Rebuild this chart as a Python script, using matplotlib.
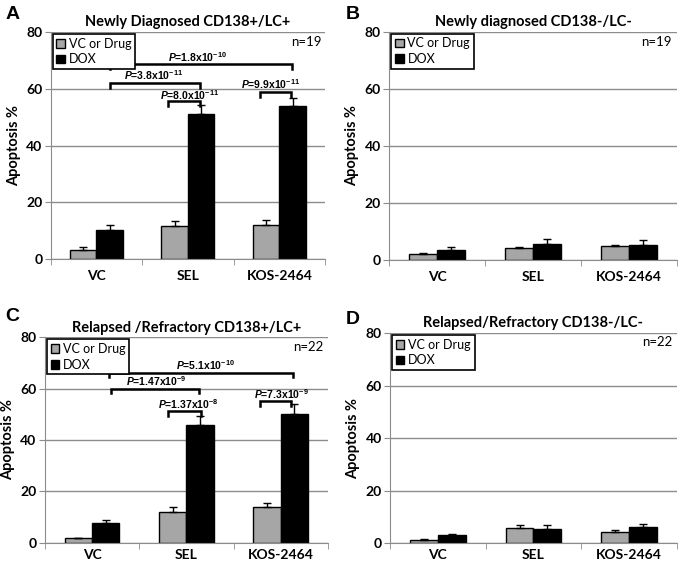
import matplotlib
matplotlib.use("Agg")
import matplotlib.pyplot as plt
import numpy as np

plt.rcParams['font.family'] = ['Lato', 'DejaVu Sans']
plt.rcParams['mathtext.fontset'] = 'custom'
plt.rcParams['mathtext.rm'] = 'Liberation Sans:bold'
plt.rcParams['mathtext.it'] = 'Liberation Sans:italic:bold'

categories = ["VC", "SEL", "KOS-2464"]
series = ["VC or Drug", "DOX"]

# panel values (mean, upper error)
a_vc = [3.4, 11.6, 11.9]
a_vc_err = [0.8, 1.8, 1.9]
a_dox = [10.2, 51.2, 53.8]
a_dox_err = [1.8, 3.0, 3.0]

b_vc = [1.9, 4.1, 4.7]
b_vc_err = [0.4, 0.3, 0.3]
b_dox = [3.3, 5.6, 5.2]
b_dox_err = [1.0, 1.6, 1.5]

c_vc = [1.6, 11.8, 13.8]
c_vc_err = [0.3, 2.0, 1.8]
c_dox = [7.5, 45.8, 50.1]
c_dox_err = [1.2, 3.6, 3.9]

d_vc = [1.4, 5.8, 4.5]
d_vc_err = [0.2, 1.3, 0.5]
d_dox = [3.1, 5.6, 6.2]
d_dox_err = [0.5, 1.2, 1.3]

titles = ["Newly Diagnosed CD138+/LC+", "Newly diagnosed CD138-/LC-",
          "Relapsed /Refractory CD138+/LC+", "Relapsed/Refractory CD138-/LC-"]
letters = ["A", "B", "C", "D"]
n_labels = ["n=19", "n=19", "n=22", "n=22"]

# significance brackets: (x1, x2, height, label, label x, label y)
a_brackets = [(0.15, 2.14, 68.9, "1.8x10$^{-10}$", 1.10, 71.3),
              (0.15, 1.13, 62.2, "3.8x10$^{-11}$", 0.62, 64.9),
              (0.78, 1.13, 55.6, "8.0x10$^{-11}$", 1.02, 57.9),
              (1.79, 2.13, 59.0, "9.9x10$^{-11}$", 1.90, 61.8)]
c_brackets = [(0.18, 2.13, 66.2, "5.1x10$^{-10}$", 1.20, 69.0),
              (0.20, 1.13, 60.0, "1.47x10$^{-9}$", 0.68, 63.1),
              (0.80, 1.15, 51.2, "1.37x10$^{-8}$", 1.02, 53.9),
              (1.78, 2.11, 55.1, "7.3x10$^{-9}$", 2.01, 58.0)]

GRID = "#8c8c8c"
GRAY = "#a6a6a6"

fig = plt.figure(figsize=(6.81, 5.66), dpi=100)
positions = [[0.0745, 0.5419, 0.403, 0.4016],
             [0.5717, 0.5415, 0.4224, 0.4025],
             [0.066, 0.0415, 0.4156, 0.3625],
             [0.5727, 0.040, 0.4214, 0.3717]]
data = [(a_vc, a_vc_err, a_dox, a_dox_err, a_brackets),
        (b_vc, b_vc_err, b_dox, b_dox_err, []),
        (c_vc, c_vc_err, c_dox, c_dox_err, c_brackets),
        (d_vc, d_vc_err, d_dox, d_dox_err, [])]
xpads = [8, 8, 5, 4]

x = np.arange(len(categories))
w = 0.29
for i, (vc, vc_err, dox, dox_err, brackets) in enumerate(data):
    ax = fig.add_axes(positions[i])
    ax.set_axisbelow(True)
    ax.bar(x - w / 2, vc, w, color=GRAY, edgecolor="black", lw=1, label=series[0],
           yerr=[np.zeros(3), vc_err], error_kw=dict(ecolor="black", elinewidth=1, capsize=3, capthick=1))
    ax.bar(x + w / 2, dox, w, color="black", edgecolor="black", lw=1, label=series[1],
           yerr=[np.zeros(3), dox_err], error_kw=dict(ecolor="black", elinewidth=1, capsize=3, capthick=1))
    ax.set_xlim(-0.5, 2.5)
    ax.set_ylim(0, 80)
    ax.set_yticks([0, 20, 40, 60, 80])
    ax.yaxis.grid(True, color=GRID, lw=1)
    ax.set_xticks(x)
    ax.set_xticklabels(categories, fontsize=10, fontweight="bold")
    ax.set_xticks([-0.5, 0.5, 1.5, 2.5], minor=True)
    ax.tick_params(axis="x", which="major", length=0, pad=xpads[i])
    ax.tick_params(axis="x", which="minor", length=4, color=GRID, direction="out")
    ax.tick_params(axis="y", length=4, color=GRID, labelsize=10, pad=2)
    for lab in ax.get_yticklabels():
        lab.set_fontweight("bold")
    for s in ["top", "right"]:
        ax.spines[s].set_visible(False)
    for s in ["left", "bottom"]:
        ax.spines[s].set_color(GRID)
    ax.set_ylabel("Apoptosis %", fontsize=10.5, fontweight="bold", labelpad=4)
    ax.set_title(titles[i], fontsize=10.5, fontweight="bold", pad=4)
    leg = ax.legend(loc="upper left", bbox_to_anchor=(0.0, 1.0), borderaxespad=0.15,
                    fancybox=False, edgecolor="black", framealpha=1, fontsize=9,
                    handlelength=0.7, handleheight=0.7, handletextpad=0.3,
                    labelspacing=0.3, borderpad=0.3)
    leg.get_frame().set_linewidth(1.2)
    ax.text(0.93, 0.955, n_labels[i], transform=ax.transAxes, ha="center", va="center", fontsize=9.5)
    for x1, x2, h, lab, tx, ty in brackets:
        ax.plot([x1, x1, x2, x2], [h - 1.8, h, h, h - 1.8], color="black", lw=1.8,
                solid_joinstyle="miter", clip_on=False)
        ax.text(tx, ty, r"$P$=" + lab, ha="center", va="center", fontsize=7.5,
                family="Liberation Sans", fontweight="bold")

lx = [0.008, 0.507, 0.008, 0.507]
ly = [0.975, 0.975, 0.44, 0.435]
for i in range(4):
    fig.text(lx[i], ly[i], letters[i], fontsize=14, fontweight="bold",
             family="Liberation Sans", va="center")

fig.savefig("out.png", dpi=100)
